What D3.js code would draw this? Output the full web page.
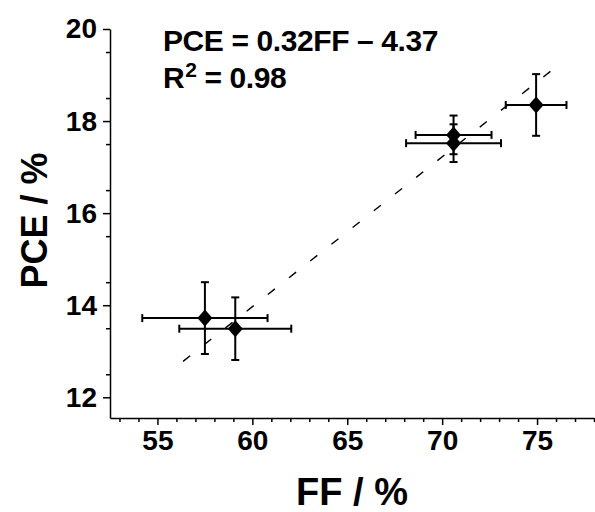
<!DOCTYPE html>
<html>
<head>
<meta charset="utf-8">
<script src="https://cdn.jsdelivr.net/npm/d3@7"></script>
<style>
  body { margin: 0; background: #fff; }
  svg { display: block; }
</style>
</head>
<body>
<script>
// data
var ff      = [57.5, 59.1, 70.6, 70.6, 74.95]
var pce     = [13.72, 13.49, 17.70, 17.52, 18.35]
var ffErr   = [3.3, 2.95, 2.0, 2.5, 1.6]
var pceErr  = [0.78, 0.68, 0.42, 0.41, 0.67]
var fitFF   = [56.35, 75.98]
var fitPCE  = [12.78, 19.17]
var xTicks  = [55, 60, 65, 70, 75]
var yTicks  = [12, 14, 16, 18, 20]

var width = 595, height = 512
var margin = {top: 29, right: 1, bottom: 94, left: 110}

var points = ff.map((d, i) => ({ff: d, pce: pce[i], ex: ffErr[i], ey: pceErr[i]}))

var xScale = d3.scaleLinear()
    .domain([52.5, 78])
    .range([margin.left, width - margin.right])
var yScale = d3.scaleLinear()
    .domain([11.55, 20])
    .range([height - margin.bottom, margin.top])

var font = "'Liberation Sans', Arial, sans-serif"

const svg = d3.select("body").append("svg")
    .attr("width", width)
    .attr("height", height)
    .attr("font-family", font)

// minor ticks first, then the major axis on top
var xMinor = d3.range(53, 78.01, 1).filter(v => v % 5 !== 0)
var yMinor = d3.range(12.5, 20, 1)

svg.append("g")
    .attr("transform", `translate(0,${height - margin.bottom})`)
    .call(d3.axisBottom(xScale).tickValues(xMinor).tickSize(4).tickFormat(""))
    .call(g => g.select(".domain").remove())
    .call(g => g.selectAll("line").attr("stroke-width", 1.5))
svg.append("g")
    .attr("transform", `translate(${margin.left},0)`)
    .call(d3.axisLeft(yScale).tickValues(yMinor).tickSize(4).tickFormat(""))
    .call(g => g.select(".domain").remove())
    .call(g => g.selectAll("line").attr("stroke-width", 1.5))

var styleLabels = g => g.selectAll("text")
    .attr("font-size", 28)
    .attr("font-weight", "bold")
    .attr("font-family", font)
    .attr("fill", "#000")

xAxis = g => g
    .attr("transform", `translate(0,${height - margin.bottom})`)
    .call(d3.axisBottom(xScale).tickValues(xTicks).tickSizeInner(7).tickSizeOuter(0).tickPadding(5))
    .call(g => g.select(".domain").attr("stroke-width", 1.5))
    .call(g => g.selectAll("line").attr("stroke-width", 1.5))
    .call(styleLabels)
yAxis = g => g
    .attr("transform", `translate(${margin.left},0)`)
    .call(d3.axisLeft(yScale).tickValues(yTicks).tickSizeInner(7).tickSizeOuter(0).tickPadding(6))
    .call(g => g.select(".domain").attr("stroke-width", 1.5))
    .call(g => g.selectAll("line").attr("stroke-width", 1.5))
    .call(styleLabels)

svg.append("g").call(xAxis)
svg.append("g").call(yAxis)

// axis titles
svg.append("text")
    .attr("x", 352)
    .attr("y", 505)
    .attr("text-anchor", "middle")
    .attr("font-size", 38)
    .attr("font-weight", "bold")
    .text("FF / %")
svg.append("text")
    .attr("transform", `translate(47,${(margin.top + height - margin.bottom) / 2 - 3}) rotate(-90)`)
    .attr("text-anchor", "middle")
    .attr("font-size", 36)
    .attr("font-weight", "bold")
    .text("PCE / %")

// fit line
svg.append("line")
    .attr("x1", xScale(fitFF[0])).attr("y1", yScale(fitPCE[0]))
    .attr("x2", xScale(fitFF[1])).attr("y2", yScale(fitPCE[1]))
    .attr("stroke", "#000")
    .attr("stroke-width", 1.4)
    .attr("stroke-dasharray", "9,18")

// error bars
var cap = 4
var eb = svg.append("g").attr("stroke", "#000").attr("stroke-width", 2)
points.forEach(d => {
    var cx = xScale(d.ff), cy = yScale(d.pce)
    var x0 = xScale(d.ff - d.ex), x1 = xScale(d.ff + d.ex)
    var y0 = yScale(d.pce - d.ey), y1 = yScale(d.pce + d.ey)
    eb.append("line").attr("x1", x0).attr("x2", x1).attr("y1", cy).attr("y2", cy)
    eb.append("line").attr("x1", x0).attr("x2", x0).attr("y1", cy - cap).attr("y2", cy + cap)
    eb.append("line").attr("x1", x1).attr("x2", x1).attr("y1", cy - cap).attr("y2", cy + cap)
    eb.append("line").attr("x1", cx).attr("x2", cx).attr("y1", y0).attr("y2", y1)
    eb.append("line").attr("x1", cx - cap).attr("x2", cx + cap).attr("y1", y0).attr("y2", y0)
    eb.append("line").attr("x1", cx - cap).attr("x2", cx + cap).attr("y1", y1).attr("y2", y1)
})

// diamond markers
svg.append("g")
    .selectAll("path")
    .data(points)
    .join("path")
        .attr("transform", d => `translate(${xScale(d.ff)},${yScale(d.pce)})`)
        .attr("d", "M0,-8.5L7.5,0L0,8.5L-7.5,0Z")
        .attr("fill", "#000")

// equation annotation
var ann = svg.append("g").attr("font-size", 30).attr("font-weight", "bold").attr("letter-spacing", -0.4)
ann.append("text").attr("x", 163).attr("y", 51).text("PCE = 0.32FF \u2013 4.37")
var r2 = ann.append("text").attr("x", 163).attr("y", 88)
r2.append("tspan").text("R")
r2.append("tspan").attr("font-size", 21).attr("dx", 1).attr("dy", -11).text("2")
r2.append("tspan").attr("dy", 11).text(" = 0.98")
</script>
</body>
</html>
